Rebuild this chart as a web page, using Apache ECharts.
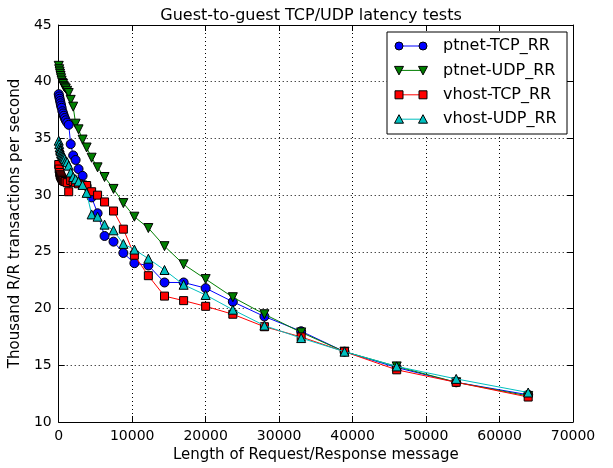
<!DOCTYPE html>
<html>
<head>
<meta charset="utf-8">
<script src="https://cdn.jsdelivr.net/npm/echarts@6/dist/echarts.min.js"></script>
<style>
    html, body { margin: 0; padding: 0; background: #fff; }
    #chart { width: 613px; height: 468px; }
</style>
</head>
<body>
<div id="chart"></div>
<script>
// message sizes (bytes)
const sizes = [1, 64, 128, 192, 256, 320, 400, 500, 600, 700, 820, 960, 1150, 1360,
    1630, 1970, 2300, 2700, 3250, 3800, 4480, 5290, 6240, 7460, 8800, 10300, 12200,
    14400, 17000, 20000, 23700, 28000, 33000, 38900, 46000, 54100, 63900]

// thousand R/R transactions per second
const ptnetTcp = [38.9, 38.7, 38.5, 38.3, 38.1, 37.9, 37.7, 37.4, 37.2, 37.0, 36.8, 36.6, 36.4, 36.2,
    34.5, 33.5, 33.1, 32.3, 31.7, 30.8, 29.8, 28.4, 26.4, 25.9, 24.9, 24.0, 23.8,
    22.3, 22.3, 21.8, 20.6, 19.3, 18.0, 16.2, 14.8, 13.5, 12.4]
const ptnetUdp = [41.4, 41.1, 40.9, 40.7, 40.5, 40.3, 40.1, 39.9, 39.8, 39.6, 39.5, 39.4, 39.2, 39.0,
    38.4, 37.8, 36.3, 35.8, 34.9, 34.2, 33.3, 32.45, 31.6, 30.55, 29.3, 28.1, 27.1,
    25.5, 23.9, 22.6, 21.0, 19.5, 17.9, 16.2, 14.9, 13.5, 12.3]
const vhostTcp = [32.7, 32.3, 32.0, 31.8, 31.7, 31.6, 31.5, 31.4, 31.3, 31.3, 31.2, 31.2, 31.1, 30.3,
    31.3, 31.2, 31.1, 31.0, 30.9, 30.85, 30.3, 30.0, 29.4, 28.6, 27.0, 24.7, 22.9,
    21.1, 20.7, 20.2, 19.5, 18.4, 17.5, 16.2, 14.6, 13.5, 12.2]
const vhostUdp = [34.8, 34.5, 34.2, 34.0, 33.9, 33.7, 33.6, 33.5, 33.4, 33.3, 33.2, 33.0, 32.9, 32.6,
    32.0, 31.6, 31.4, 31.2, 30.9, 30.2, 28.3, 28.1, 27.4, 26.9, 25.7, 25.2, 24.4,
    23.4, 22.1, 21.2, 19.9, 18.5, 17.4, 16.2, 14.9, 13.8, 12.6]

const seriesNames = ['ptnet-TCP_RR', 'ptnet-UDP_RR', 'vhost-TCP_RR', 'vhost-UDP_RR']
const seriesValues = [ptnetTcp, ptnetUdp, vhostTcp, vhostUdp]
const colors = ['#0000ff', '#007f00', '#ff0000', '#00bfbf']
const symbols = ['circle', 'triangle', 'rect', 'triangle']
const rotates = [0, 180, 0, 0]

const font = 'DejaVu Sans'
const chart = echarts.init(document.getElementById('chart'))

const frameAxis = {
    axisLine: { show: true, onZero: false, lineStyle: { color: '#000', width: 1 } },
    axisTick: { show: true, inside: true, length: 6, lineStyle: { color: '#000' } }
}

// legend drawn like matplotlib: a line with two markers
const legendItems = []
const lx = 387, ly = 32, rowH = 24.4
legendItems.push({
    type: 'rect',
    shape: { x: lx, y: ly, width: 180, height: 102 },
    style: { fill: '#fff', stroke: '#000', lineWidth: 1 },
    z: 100
})
seriesNames.forEach((name, i) => {
    const cy = ly + 14 + i * rowH
    legendItems.push({
        type: 'line',
        shape: { x1: 399, y1: cy, x2: 423, y2: cy },
        style: { stroke: colors[i], lineWidth: 1 },
        z: 101
    })
    ;[399, 423].forEach(cx => {
        let shape
        if (symbols[i] === 'circle') {
            legendItems.push({ type: 'circle', shape: { cx: cx, cy: cy, r: 4 },
                style: { fill: colors[i], stroke: '#000', lineWidth: 1 }, z: 102 })
            return
        }
        if (symbols[i] === 'rect') {
            legendItems.push({ type: 'rect', shape: { x: cx - 4, y: cy - 4, width: 8, height: 8 },
                style: { fill: colors[i], stroke: '#000', lineWidth: 1 }, z: 102 })
            return
        }
        if (rotates[i] === 180) {
            shape = { points: [[cx - 4.5, cy - 4], [cx + 4.5, cy - 4], [cx, cy + 4.5]] }
        } else {
            shape = { points: [[cx - 4.5, cy + 4], [cx + 4.5, cy + 4], [cx, cy - 4.5]] }
        }
        legendItems.push({ type: 'polygon', shape: shape,
            style: { fill: colors[i], stroke: '#000', lineWidth: 1 }, z: 102 })
    })
    legendItems.push({
        type: 'text',
        x: 443, y: cy,
        style: { text: name, fill: '#000', font: '16px "' + font + '"', textVerticalAlign: 'middle' },
        z: 101
    })
})

const option = {
    animation: false,
    backgroundColor: '#fff',
    textStyle: { fontFamily: font },
    title: {
        text: 'Guest-to-guest TCP/UDP latency tests',
        left: 306,
        top: 3,
        textAlign: 'center',
        textStyle: { fontFamily: font, fontSize: 16, fontWeight: 'normal', color: '#000' }
    },
    grid: { left: 57, right: 40, top: 25, bottom: 43 },
    xAxis: [
        Object.assign({
            type: 'value',
            position: 'bottom',
            min: 0,
            max: 70000,
            interval: 10000,
            name: 'Length of Request/Response message',
            nameLocation: 'middle',
            nameGap: 26,
            nameTextStyle: { fontFamily: font, fontSize: 15, color: '#000' },
            axisLabel: { fontFamily: font, fontSize: 14, color: '#000', margin: 7,
                formatter: v => String(v) },
            splitLine: { show: true, lineStyle: { color: '#000', type: [1, 3], width: 1 } }
        }, frameAxis),
        Object.assign({
            type: 'value',
            position: 'top',
            min: 0,
            max: 70000,
            interval: 10000,
            axisLabel: { show: false },
            splitLine: { show: false }
        }, frameAxis)
    ],
    yAxis: [
        Object.assign({
            type: 'value',
            position: 'left',
            min: 10,
            max: 45,
            interval: 5,
            name: 'Thousand R/R transactions per second',
            nameLocation: 'middle',
            nameGap: 26,
            nameTextStyle: { fontFamily: font, fontSize: 15, color: '#000' },
            axisLabel: { fontFamily: font, fontSize: 14, color: '#000', margin: 7 },
            splitLine: { show: true, lineStyle: { color: '#000', type: [1, 3], width: 1 } }
        }, frameAxis),
        Object.assign({
            type: 'value',
            position: 'right',
            min: 10,
            max: 45,
            interval: 5,
            axisLabel: { show: false },
            splitLine: { show: false }
        }, frameAxis)
    ],
    series: seriesNames.map((name, i) => ({
        name: name,
        type: 'line',
        xAxisIndex: 0,
        yAxisIndex: 0,
        data: sizes.map((s, j) => [s, seriesValues[i][j]]),
        symbol: symbols[i],
        symbolRotate: rotates[i],
        symbolSize: symbols[i] === 'rect' ? 8 : 9,
        showAllSymbol: true,
        lineStyle: { color: colors[i], width: 1 },
        itemStyle: { color: colors[i], borderColor: '#000', borderWidth: 1 },
        z: 2 + i
    })),
    graphic: legendItems
}

chart.setOption(option)
</script>
</body>
</html>
